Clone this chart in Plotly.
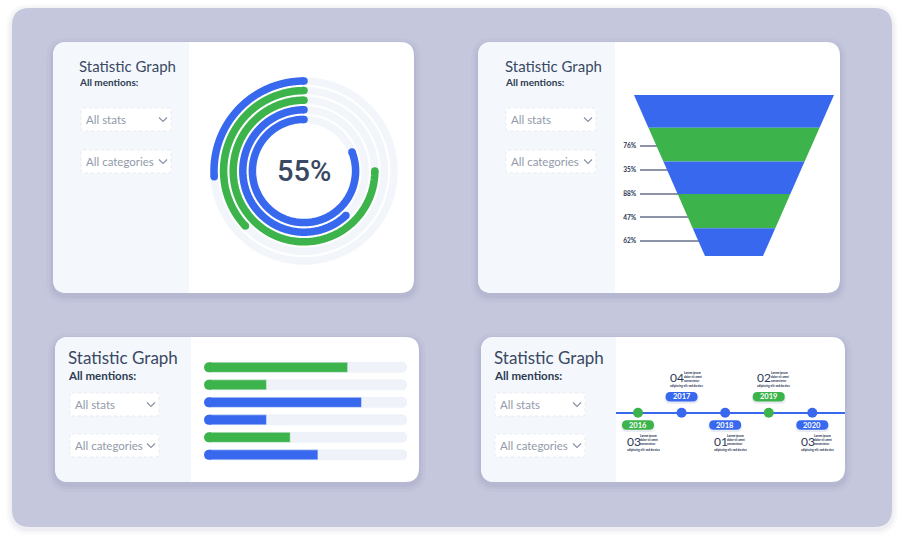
import numpy as np
import plotly.graph_objects as go

W, H = 904, 544
BLUE = "#3768ee"
GREEN = "#3cb44b"
NAVY = "#3a4963"
GRAYTXT = "#929aaa"
FONT = "Lato"

# ---------------- data ----------------
ring_values = [26, 37, 75, 62, 81]          # % of each ring (outer -> inner)
ring_colors = [BLUE, GREEN, GREEN, BLUE, BLUE]
center_label = "55%"

funnel_stage_values = [31, 27, 21, 17, 10]
funnel_colors = [BLUE, GREEN, BLUE, GREEN, BLUE]
funnel_labels = ["76%", "35%", "88%", "47%", "62%"]

bar_rows = [0, 1, 2, 3, 4, 5]
bar_values = [70, 29, 77, 29, 41, 55]
bar_colors = [GREEN, GREEN, BLUE, BLUE, GREEN, BLUE]
bar_max = 100

timeline_years = [2016, 2017, 2018, 2019, 2020]
timeline_numbers = ["03", "04", "01", "02", "03"]
timeline_colors = [GREEN, BLUE, BLUE, GREEN, BLUE]
tiny_lines = ["Lorem ipsum", "dolor sit amet", "consectetur"]
tiny_last = "adipiscing elit sed do eius"

card_title = "Statistic Graph"
card_sub = "All mentions:"
dropdown_texts = ["All stats", "All categories"]


# ---------------- helpers (pixel -> paper) ----------------
def px(x):
    return x / W


def py(y):
    return 1 - y / H


def rrect(x0, y0, x1, y1, r, corners=(1, 1, 1, 1)):
    tl, tr, br, bl = [r * c for c in corners]
    P = lambda x, y: f"{px(x):.5f},{py(y):.5f}"
    d = f"M {P(x0 + tl, y0)} L {P(x1 - tr, y0)} "
    d += f"Q {P(x1, y0)} {P(x1, y0 + tr)} " if tr else ""
    d += f"L {P(x1, y1 - br)} "
    d += f"Q {P(x1, y1)} {P(x1 - br, y1)} " if br else ""
    d += f"L {P(x0 + bl, y1)} "
    d += f"Q {P(x0, y1)} {P(x0, y1 - bl)} " if bl else ""
    d += f"L {P(x0, y0 + tl)} "
    d += f"Q {P(x0, y0)} {P(x0 + tl, y0)} " if tl else ""
    return d + "Z"


shapes = []
annotations = []


def add_rr(x0, y0, x1, y1, r, fill, corners=(1, 1, 1, 1), line=None, layer="below"):
    shapes.append(dict(type="path", xref="paper", yref="paper", layer=layer,
                       path=rrect(x0, y0, x1, y1, r, corners), fillcolor=fill,
                       line=line or dict(width=0)))


def text(x, y, s, size, color, weight=400, xanchor="left", family=FONT):
    annotations.append(dict(x=px(x), y=py(y), xref="paper", yref="paper", text=s,
                            showarrow=False, xanchor=xanchor, yanchor="middle",
                            font=dict(size=size, color=color, family=family, weight=weight)))


# ---------------- background ----------------
for k, a in [(6, 0.03), (4, 0.04), (2, 0.05)]:
    add_rr(12 - k, 8 - k + 2, 892 + k, 527 + k + 2, 18 + k, f"rgba(120,125,160,{a})")
add_rr(12, 8, 892, 527, 18, "#c5c8dd")

cards = [
    dict(b=(53, 42, 414, 293), split=189, t=(77, 66, 15), s=(77, 82, 10),
         dd=[(81, 108, 171, 131), (81, 150, 171, 173)]),
    dict(b=(478, 42, 840, 293), split=615, t=(503, 66, 15), s=(503, 82, 10),
         dd=[(506, 108, 596, 131), (506, 150, 596, 173)]),
    dict(b=(55, 337, 419, 482), split=191, t=(66, 357, 17), s=(66, 375, 11.5),
         dd=[(70, 393, 159, 416), (70, 434, 159, 457)]),
    dict(b=(481, 337, 845, 482), split=616, t=(492, 357, 17), s=(492, 375, 11.5),
         dd=[(495, 393, 585, 416), (495, 434, 585, 457)]),
]
for c in cards:
    x0, y0, x1, y1 = c["b"]
    for k, a in [(7, 0.035), (4, 0.05), (2, 0.06)]:
        add_rr(x0 - k, y0 - k + 3, x1 + k, y1 + k + 3, 14 + k, f"rgba(90,95,140,{a})")
    add_rr(x0, y0, x1, y1, 14, "#ffffff")
    add_rr(x0, y0, c["split"], y1, 14, "#f4f8fc", corners=(1, 0, 0, 1))
    tx, ty, ts = c["t"]
    text(tx, ty, card_title, ts, NAVY)
    sx, sy, ss = c["s"]
    text(sx, sy, card_sub, ss, "#2e3b52", weight=700)
    for (dx0, dy0, dx1, dy1), label in zip(c["dd"], dropdown_texts):
        add_rr(dx0, dy0, dx1, dy1, 2, "#ffffff",
               line=dict(color="#e6eaf1", width=1, dash="dot"))
        text(dx0 + 3, (dy0 + dy1) / 2, label, 11.5, GRAYTXT)
        cx, cy = dx1 - 8, (dy0 + dy1) / 2
        shapes.append(dict(type="path", xref="paper", yref="paper", layer="below",
                           path=f"M {px(cx-4):.5f},{py(cy-2):.5f} L {px(cx):.5f},{py(cy+2):.5f} "
                                f"L {px(cx+4):.5f},{py(cy-2):.5f}",
                           line=dict(color="#8a93a5", width=1.2)))

fig = go.Figure()

# ---------------- radial rings ----------------
R0, RSTEP, RW = 90, 9.6, 7.5
for i, (v, col) in enumerate(zip(ring_values, ring_colors)):
    r = R0 - i * RSTEP
    full = np.linspace(0, 360, 361)
    fig.add_trace(go.Scatterpolar(r=[r] * len(full), theta=full, mode="lines",
                                  line=dict(color="rgba(226,233,243,0.45)", width=RW),
                                  hoverinfo="skip", showlegend=False, subplot="polar"))
for i, (v, col) in enumerate(zip(ring_values, ring_colors)):
    r = R0 - i * RSTEP
    th = np.linspace(0, v * 3.6, 240)
    fig.add_trace(go.Scatterpolar(r=[r] * len(th), theta=th, mode="lines",
                                  line=dict(color=col, width=RW),
                                  hoverinfo="skip", showlegend=False, subplot="polar"))
    fig.add_trace(go.Scatterpolar(r=[r, r], theta=[0, v * 3.6], mode="markers",
                                  marker=dict(color=col, size=RW),
                                  hoverinfo="skip", showlegend=False, subplot="polar"))
text(304, 171, center_label, 29, NAVY, weight=500, xanchor="center", family="Roboto")

# ---------------- funnel ----------------
fig.add_trace(go.Scatter(x=[0] * len(funnel_labels), y=funnel_labels, mode="markers",
                         marker=dict(opacity=0), hoverinfo="skip", showlegend=False,
                         xaxis="x", yaxis="y"))
fig.add_trace(go.Funnelarea(values=funnel_stage_values, marker=dict(colors=funnel_colors, line=dict(width=0)),
                            textinfo="none", hoverinfo="skip", showlegend=False,
                            aspectratio=161 / 200, baseratio=0.29,
                            domain=dict(x=[px(634), px(834)], y=[py(256), py(95)])))

# ---------------- bars ----------------
fig.add_trace(go.Bar(x=[bar_max] * len(bar_rows), y=bar_rows, orientation="h",
                     marker=dict(color="rgba(232,238,246,0.7)", cornerradius=5),
                     hoverinfo="skip", showlegend=False, xaxis="x2", yaxis="y2"))
fig.add_trace(go.Bar(x=bar_values, y=bar_rows, orientation="h",
                     marker=dict(color=bar_colors, cornerradius=5),
                     hoverinfo="skip", showlegend=False, xaxis="x2", yaxis="y2"))
fig.add_trace(go.Scatter(x=[0] * len(bar_rows), y=bar_rows, mode="markers", cliponaxis=False,
                         marker=dict(color=bar_colors, size=10, line=dict(width=0)),
                         hoverinfo="skip", showlegend=False, xaxis="x2", yaxis="y2"))

# ---------------- timeline ----------------
fig.add_trace(go.Scatter(x=timeline_years, y=[0] * len(timeline_years), mode="markers",
                         marker=dict(color=timeline_colors, size=10, line=dict(width=0)),
                         hoverinfo="skip", showlegend=False, xaxis="x3", yaxis="y3"))


def pill(cy, hw=16, hh=4.7):
    r = hh
    return (f"M {-hw + r},{cy - hh} L {hw - r},{cy - hh} Q {hw},{cy - hh} {hw},{cy} "
            f"Q {hw},{cy + hh} {hw - r},{cy + hh} L {-hw + r},{cy + hh} "
            f"Q {-hw},{cy + hh} {-hw},{cy} Q {-hw},{cy - hh} {-hw + r},{cy - hh} Z")


for i, (yr, num, col) in enumerate(zip(timeline_years, timeline_numbers, timeline_colors)):
    above = i % 2 == 1
    cy = 16 if above else -12.3
    shapes.append(dict(type="path", xref="x3", yref="y3", xsizemode="pixel", ysizemode="pixel",
                       xanchor=yr, yanchor=0, path=pill(cy - 1.5, 17, 5.6),
                       fillcolor="rgba(40,60,130,0.10)", line=dict(width=0), layer="above"))
    shapes.append(dict(type="path", xref="x3", yref="y3", xsizemode="pixel", ysizemode="pixel",
                       xanchor=yr, yanchor=0, path=pill(cy), fillcolor=col,
                       line=dict(width=0), layer="above"))
    annotations.append(dict(x=yr, y=0, xref="x3", yref="y3", yshift=cy, text=str(yr),
                            showarrow=False, font=dict(size=7.5, color="white", family=FONT, weight=700)))
    ny = 35 if above else -28.3
    annotations.append(dict(x=yr, y=0, xref="x3", yref="y3", yshift=ny, xshift=-13.5,
                            xanchor="left", yanchor="middle", text=num, showarrow=False,
                            font=dict(size=12, color="#2b3956", family=FONT)))
    annotations.append(dict(x=yr, y=0, xref="x3", yref="y3", yshift=ny + 1.2, xshift=0,
                            xanchor="left", yanchor="middle", text="<br>".join(tiny_lines),
                            showarrow=False, align="left",
                            font=dict(size=2.9, color="#34405c", family=FONT, weight=900)))
    annotations.append(dict(x=yr, y=0, xref="x3", yref="y3", yshift=ny - 8.5, xshift=-13.5,
                            xanchor="left", yanchor="middle", text=tiny_last, showarrow=False,
                            font=dict(size=2.9, color="#34405c", family=FONT, weight=900)))

hid = dict(visible=False, fixedrange=True)
fig.update_layout(
    width=W, height=H, margin=dict(l=0, r=0, t=0, b=0),
    paper_bgcolor="white", plot_bgcolor="rgba(0,0,0,0)",
    showlegend=False, barmode="overlay", bargap=0.43,
    shapes=shapes, annotations=annotations,
    polar=dict(domain=dict(x=[px(304 - 98), px(304 + 98)], y=[py(171 + 98), py(171 - 98)]),
               bgcolor="rgba(0,0,0,0)",
               radialaxis=dict(visible=False, range=[0, 98]),
               angularaxis=dict(visible=False, rotation=90, direction="counterclockwise")),
    xaxis=dict(domain=[px(640), px(735)], range=[0, 1], **hid, anchor="y"),
    yaxis=dict(domain=[py(253), py(134)], type="category", range=[4.5, -0.5],
               showgrid=True, gridcolor="#8e94a8", gridwidth=1.5, zeroline=False,
               showline=False, ticks="", ticklabelstandoff=3, fixedrange=True, anchor="x",
               tickfont=dict(size=6.5, color="#2a3552", family=FONT, weight=700)),
    xaxis2=dict(domain=[px(209), px(407)], range=[0, bar_max], **hid, anchor="y2"),
    yaxis2=dict(domain=[py(463.6), py(358.6)], range=[5.5, -0.5], **hid, anchor="x2"),
    xaxis3=dict(domain=[px(616), px(845)], range=[2015.495, 2020.75], **hid, anchor="y3"),
    yaxis3=dict(domain=[py(462.7), py(362.7)], range=[-1, 1], showgrid=False,
                zeroline=True, zerolinecolor=BLUE, zerolinewidth=1.5, showticklabels=False,
                ticks="", showline=False, fixedrange=True, anchor="x3"),
)
fig.write_html("out.html")
